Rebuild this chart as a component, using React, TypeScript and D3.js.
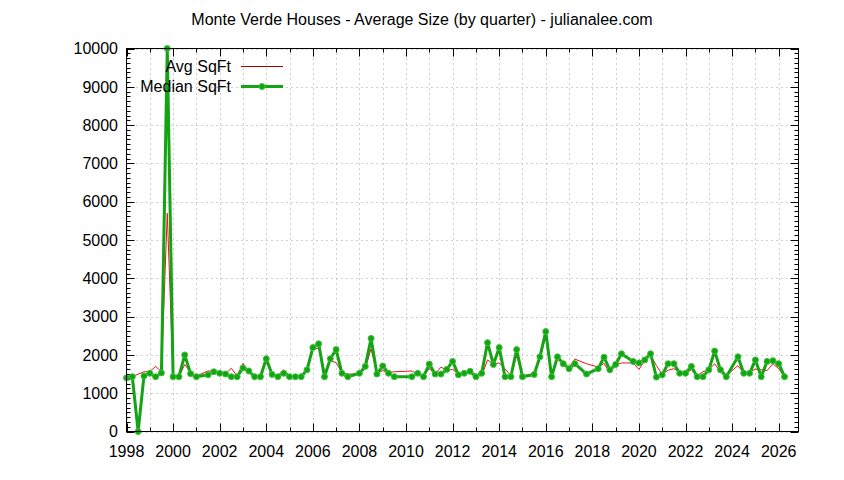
import { useMemo } from 'react';
import * as d3 from 'd3';

const quarters = [
  '1998-Q1', '1998-Q2', '1998-Q3', '1998-Q4', '1999-Q1', '1999-Q2', '1999-Q3', '1999-Q4',
  '2000-Q1', '2000-Q2', '2000-Q3', '2000-Q4', '2001-Q1', '2001-Q3', '2001-Q4',
  '2002-Q1', '2002-Q2', '2002-Q3', '2002-Q4', '2003-Q1', '2003-Q2', '2003-Q3', '2003-Q4',
  '2004-Q1', '2004-Q2', '2004-Q3', '2004-Q4', '2005-Q1', '2005-Q2', '2005-Q3', '2005-Q4',
  '2006-Q1', '2006-Q2', '2006-Q3', '2006-Q4', '2007-Q1', '2007-Q2', '2007-Q3',
  '2008-Q1', '2008-Q2', '2008-Q3', '2008-Q4', '2009-Q1', '2009-Q2', '2009-Q3',
  '2010-Q2', '2010-Q3', '2010-Q4', '2011-Q1', '2011-Q2', '2011-Q3', '2011-Q4',
  '2012-Q1', '2012-Q2', '2012-Q3', '2012-Q4', '2013-Q1', '2013-Q2', '2013-Q3', '2013-Q4',
  '2014-Q1', '2014-Q2', '2014-Q3', '2014-Q4', '2015-Q1', '2015-Q3', '2015-Q4',
  '2016-Q1', '2016-Q2', '2016-Q3', '2016-Q4', '2017-Q1', '2017-Q2', '2017-Q4',
  '2018-Q2', '2018-Q3', '2018-Q4', '2019-Q1', '2019-Q2', '2019-Q4',
  '2020-Q1', '2020-Q2', '2020-Q3', '2020-Q4', '2021-Q1', '2021-Q2', '2021-Q3', '2021-Q4',
  '2022-Q1', '2022-Q2', '2022-Q3', '2022-Q4', '2023-Q1', '2023-Q2', '2023-Q3', '2023-Q4',
  '2024-Q2', '2024-Q3', '2024-Q4', '2025-Q1', '2025-Q2', '2025-Q3', '2025-Q4',
  '2026-Q1', '2026-Q2',
];

const avgSqft = [
  1400, 1430, 1500, 1560, 1560, 1700, 1560, 5700,
  1430, 1430, 1750, 1540, 1450, 1580, 1580,
  1530, 1510, 1650, 1450, 1780, 1560, 1470, 1440,
  1880, 1500, 1460, 1610, 1460, 1440, 1440, 1620,
  2140, 2180, 1550, 1840, 1800, 1530, 1500,
  1500, 1640, 2160, 1520, 1590, 1540, 1560,
  1580, 1500, 1460, 1640, 1500, 1680, 1600,
  1620, 1510, 1510, 1540, 1490, 1450, 1870, 1760,
  1790, 1640, 1460, 1980, 1450, 1510, 1900,
  2500, 1480, 1900, 1750, 1680, 1890, 1770,
  1680, 1780, 1530, 1740, 1790, 1790,
  1620, 1850, 1990, 1720, 1490, 1600, 1640, 1550,
  1530, 1610, 1460, 1560, 1610, 1770, 1560, 1460,
  1720, 1520, 1550, 1630, 1610, 1590, 1770,
  1640, 1430,
];

const medianSqft = [
  1400, 1430, 0, 1450, 1520, 1430, 1530, 10000,
  1430, 1430, 2000, 1510, 1430, 1480, 1560,
  1520, 1500, 1430, 1430, 1660, 1580, 1430, 1430,
  1900, 1490, 1430, 1520, 1430, 1430, 1430, 1610,
  2190, 2290, 1430, 1900, 2140, 1520, 1430,
  1520, 1700, 2430, 1500, 1710, 1520, 1430,
  1430, 1520, 1430, 1760, 1500, 1500, 1620,
  1830, 1480, 1520, 1570, 1430, 1520, 2320, 1750,
  2190, 1430, 1430, 2140, 1430, 1490, 1950,
  2610, 1430, 1950, 1770, 1640, 1770, 1500,
  1640, 1940, 1610, 1750, 2030, 1830,
  1790, 1870, 2030, 1420, 1480, 1770, 1770, 1520,
  1520, 1700, 1430, 1430, 1610, 2100, 1610, 1430,
  1950, 1520, 1520, 1870, 1430, 1830, 1850,
  1770, 1430,
];

const yTicks = [0, 1000, 2000, 3000, 4000, 5000, 6000, 7000, 8000, 9000, 10000];
const xYears = [1998, 1999, 2000, 2001, 2002, 2003, 2004, 2005, 2006, 2007, 2008, 2009, 2010, 2011,
  2012, 2013, 2014, 2015, 2016, 2017, 2018, 2019, 2020, 2021, 2022, 2023, 2024, 2025, 2026];
const xLabelYears = [1998, 2000, 2002, 2004, 2006, 2008, 2010, 2012, 2014, 2016, 2018, 2020, 2022, 2024, 2026];

const W = 844;
const H = 480;
const FONT = '"Liberation Sans", Arial, sans-serif';
const RED = '#e8141c';
const GREEN = '#13a313';

function toYear(q: string) {
  const [y, qq] = q.split('-Q');
  return +y + (+qq - 1) / 4;
}

export default function App() {
  const left = 126.5;
  const right = 798.5;
  const top = 48.5;
  const bottom = 431.5;

  const x = d3.scaleLinear().domain([1998, 2026.85]).range([left, right]);
  const y = d3.scaleLinear().domain([0, 10000]).range([bottom, top]);

  const rows = useMemo(
    () => quarters.map((q, i) => ({ t: toYear(q), avg: avgSqft[i], med: medianSqft[i] })),
    [],
  );

  const avgLine = d3.line<{ t: number; avg: number }>().x((d) => x(d.t)).y((d) => y(d.avg));
  const medLine = d3.line<{ t: number; med: number }>().x((d) => x(d.t)).y((d) => y(d.med));

  // 8 minor intervals per 1000 on the y axis
  const yMinor: number[] = [];
  for (let v = 0; v < 10000; v += 125) if (v % 1000 !== 0) yMinor.push(v);

  return (
    <div style={{ position: 'fixed', left: 0, top: 0, width: W, height: H, background: '#fff' }}>
      <svg width={W} height={H} fontFamily={FONT}>
        <rect width={W} height={H} fill="#fff" />
        <text x={422} y={24.5} textAnchor="middle" fontSize={16} fill="#000">
          Monte Verde Houses - Average Size (by quarter) - julianalee.com
        </text>

        {/* grid */}
        <g stroke="#a0a0a0" strokeWidth={1} strokeDasharray="1,4">
          {xYears.map((yr) => (
            <line key={`gx${yr}`} x1={Math.round(x(yr)) + 0.5} x2={Math.round(x(yr)) + 0.5} y1={top} y2={bottom} />
          ))}
          {yTicks.map((v) => (
            <line key={`gy${v}`} x1={left} x2={right} y1={Math.round(y(v)) + 0.5} y2={Math.round(y(v)) + 0.5} />
          ))}
        </g>

        {/* ticks */}
        <g stroke="#000" strokeWidth={1}>
          {yTicks.map((v) => {
            const yy = Math.round(y(v)) + 0.5;
            return (
              <g key={`ty${v}`}>
                <line x1={left} x2={left + 8} y1={yy} y2={yy} />
                <line x1={right} x2={right - 8} y1={yy} y2={yy} />
              </g>
            );
          })}
          {yMinor.map((v) => {
            const yy = Math.round(y(v)) + 0.5;
            return (
              <g key={`tm${v}`}>
                <line x1={left} x2={left + 4} y1={yy} y2={yy} />
                <line x1={right} x2={right - 4} y1={yy} y2={yy} />
              </g>
            );
          })}
          {xYears.map((yr) => {
            const xx = Math.round(x(yr)) + 0.5;
            const len = yr % 2 === 0 ? 8 : 4;
            return (
              <g key={`tx${yr}`}>
                <line x1={xx} x2={xx} y1={bottom} y2={bottom - len} />
                <line x1={xx} x2={xx} y1={top} y2={top + len} />
              </g>
            );
          })}
        </g>

        {/* tick labels */}
        <g fontSize={16} fill="#000">
          {yTicks.map((v) => (
            <text key={`ly${v}`} x={118} y={y(v)} dy="0.36em" textAnchor="end">
              {v}
            </text>
          ))}
          {xLabelYears.map((yr) => (
            <text key={`lx${yr}`} x={x(yr)} y={457} textAnchor="middle">
              {yr}
            </text>
          ))}
        </g>

        {/* series */}
        <path d={avgLine(rows) ?? undefined} fill="none" stroke={RED} strokeWidth={1} />
        <path d={medLine(rows) ?? undefined} fill="none" stroke={GREEN} strokeWidth={3} strokeLinejoin="round" />
        <g fill={GREEN} stroke="#3cc43c" strokeWidth={1}>
          {rows.map((d, i) => (
            <circle key={i} cx={x(d.t)} cy={y(d.med)} r={3} />
          ))}
        </g>

        {/* border */}
        <rect x={left} y={top} width={right - left} height={bottom - top} fill="none" stroke="#000" strokeWidth={1} />

        {/* legend */}
        <g fontSize={16} fill="#000">
          <text x={231} y={71.5} textAnchor="end">Avg SqFt</text>
          <line x1={241} x2={283} y1={66.5} y2={66.5} stroke="#b00000" strokeWidth={1} />
          <text x={231} y={91.5} textAnchor="end">Median SqFt</text>
          <line x1={241} x2={283} y1={86.5} y2={86.5} stroke={GREEN} strokeWidth={3} />
          <circle cx={262} cy={86.5} r={3} fill={GREEN} stroke="#3cc43c" />
        </g>
      </svg>
    </div>
  );
}
